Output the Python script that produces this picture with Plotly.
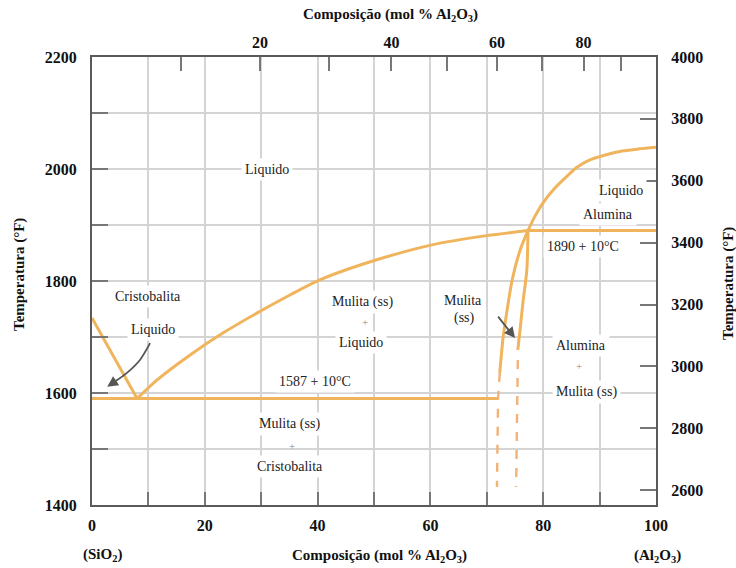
import plotly.graph_objects as go

# ---------------- data (wt % Al2O3, temperature °C) ----------------
liq_cristo_x = [0.0, 8.0]
liq_cristo_t = [1734, 1590]

liq_mullite_x = [8.0, 11.5, 17.4, 23.2, 29.3, 35.1, 40.4, 50.2, 60.5, 70.0, 77.3]
liq_mullite_t = [1590, 1623, 1668, 1707, 1743, 1775, 1802, 1837, 1865, 1881, 1890]

liq_alumina_x = [77.3, 78.5, 80.0, 82.0, 84.0, 86.0, 88.0, 91.0, 94.0, 97.0, 100.0]
liq_alumina_t = [1890, 1915, 1940, 1965, 1985, 2003, 2015, 2025, 2032, 2036, 2039]

eutectic_x = [0.0, 72.0]
eutectic_t = [1590, 1590]

peritectic_x = [77.3, 100.0]
peritectic_t = [1890, 1890]

mull_left_x = [77.3, 75.9, 74.5, 73.6, 72.9, 72.3]
mull_left_t = [1890, 1855, 1802, 1748, 1700, 1636]
mull_left_dash_x = [72.3, 72.0, 71.8]
mull_left_dash_t = [1636, 1590, 1432]

mull_right_x = [77.3, 77.1, 76.4, 75.9, 75.5]
mull_right_t = [1890, 1820, 1761, 1713, 1677]
mull_right_dash_x = [75.5, 75.2]
mull_right_dash_t = [1659, 1432]

# curved pointer for the "Liquido" label near SiO2 (x wt%, T °C)
pointer_x = [10.3, 8.5, 6.2, 4.0]
pointer_t = [1689, 1659, 1636, 1620]

# axis ticks
x_ticks = [0, 20, 40, 60, 80, 100]
x_minor = [10, 30, 50, 70, 90]
y_ticks = [1400, 1600, 1800, 2000, 2200]
y_minor = [1500, 1700, 1900, 2100]
yF_ticks = [2600, 2800, 3000, 3200, 3400, 3600, 3800, 4000]
mol_ticks = [20, 40, 60, 80]
mol_minor = [10, 30, 50, 70, 90]

# region labels: (text, x wt%, T °C)
region_labels = [
    ("Liquido", 31.0, 2000),
    ("Cristobalita", 9.9, 1773),
    ("Liquido", 10.8, 1714),
    ("Mulita (ss)", 47.9, 1762),
    ("Liquido", 47.7, 1691),
    ("1587 + 10°C", 39.5, 1620),
    ("Mulita (ss)", 35.1, 1545),
    ("Cristobalita", 35.1, 1468),
    ("Mulita", 65.8, 1766),
    ("(ss)", 66.1, 1734),
    ("Alumina", 86.7, 1684),
    ("Mulita (ss)", 87.6, 1602),
    ("Liquido", 93.8, 1962),
    ("Alumina", 91.5, 1919),
    ("1890 + 10°C", 87.1, 1862),
]
plus_labels = [(48.4, 1727), (35.5, 1505), (86.4, 1648)]

# straight arrows: (tail x, tail T, head x, head T)
arrows = [(4.0, 1620, 2.7, 1611), (71.8, 1739, 75.0, 1698)]

ORANGE = "rgb(240,180,92)"
ORANGE_D = "rgb(242,178,120)"
ARROW = "#555"
FONT = "Liberation Serif"

def mol_to_wt(m):
    return 100 * m * 101.96 / (m * 101.96 + (100 - m) * 60.08)

fig = go.Figure()

def add_line(xs, ts, dash="solid", color=ORANGE, width=3, shape="spline"):
    fig.add_trace(go.Scatter(x=xs, y=ts, mode="lines",
                             line=dict(color=color, width=width, dash=dash, shape=shape,
                                       smoothing=0.8),
                             hoverinfo="skip", showlegend=False))

add_line(liq_cristo_x, liq_cristo_t, shape="linear")
add_line(liq_mullite_x, liq_mullite_t)
add_line(liq_alumina_x, liq_alumina_t)
add_line(eutectic_x, eutectic_t, shape="linear")
add_line(peritectic_x, peritectic_t, shape="linear")
add_line(mull_left_x, mull_left_t)
add_line(mull_right_x, mull_right_t)
add_line(mull_left_dash_x, mull_left_dash_t, dash="dash", color=ORANGE_D, width=2.4, shape="linear")
add_line(mull_right_dash_x, mull_right_dash_t, dash="dash", color=ORANGE_D, width=2.4, shape="linear")
add_line(pointer_x, pointer_t, color=ARROW, width=1.8)

# invisible trace for secondary axes
fig.add_trace(go.Scatter(x=[0], y=[3000], xaxis="x2", yaxis="y2", mode="markers",
                         marker=dict(opacity=0), hoverinfo="skip", showlegend=False))

for txt, x, t in region_labels:
    fig.add_annotation(x=x, y=t, text=txt, showarrow=False, bgcolor="white",
                       font=dict(family=FONT, size=14, color="#222"), borderpad=3)
for x, t in plus_labels:
    fig.add_annotation(x=x, y=t, text="+", showarrow=False,
                       font=dict(family=FONT, size=11, color="#888"))
for tx, tt, hx, ht in arrows:
    fig.add_annotation(x=hx, y=ht, ax=tx, ay=tt, axref="x", ayref="y", text="",
                       showarrow=True, arrowhead=2, arrowsize=1.2, arrowwidth=1.8,
                       arrowcolor=ARROW)

def paper_x(px):
    return (px - 92) / 564

def paper_y(py):
    return (505 - py) / 448

title_font = dict(family=FONT, size=15, color="#111")
title_txt = "<b>Composição (mol % Al<sub>2</sub>O<sub>3</sub>)</b>"
outer_texts = [
    (title_txt, 390, 15, 0),
    (title_txt, 379, 556, 0),
    ("<b>(SiO<sub>2</sub>)</b>", 102, 555, 0),
    ("<b>(Al<sub>2</sub>O<sub>3</sub>)</b>", 657, 556, 0),
    ("<b>Temperatura (°F)</b>", 19, 275, -90),
    ("<b>Temperatura (°F)</b>", 728, 284, -90),
]
for txt, px, py, ang in outer_texts:
    fig.add_annotation(xref="paper", yref="paper", x=paper_x(px), y=paper_y(py),
                       xanchor="center", yanchor="middle", text=txt, textangle=ang,
                       showarrow=False, font=title_font)

tick_font = dict(family=FONT, size=16, color="#111", weight="bold")
LINE = "#5a5a5a"
GRID = "#d4d4d4"
TICKC = "#777"

fig.update_layout(
    width=736, height=568,
    margin=dict(l=92, r=80, t=57, b=63),
    paper_bgcolor="white", plot_bgcolor="white",
    showlegend=False,
    xaxis=dict(range=[0, 100], tickvals=x_ticks,
               ticks="inside", ticklen=13, tickwidth=2, tickcolor=TICKC,
               showgrid=True, gridcolor=GRID, gridwidth=1.5,
               minor=dict(tickvals=x_minor, ticks="inside", ticklen=13, tickwidth=2,
                          tickcolor=TICKC, showgrid=True, gridcolor=GRID, gridwidth=1.5),
               showline=True, linecolor=LINE, linewidth=2,
               zeroline=False, tickfont=tick_font, ticklabelstandoff=5),
    xaxis2=dict(range=[0, 100], overlaying="x", side="top",
                tickvals=[mol_to_wt(m) for m in mol_ticks], ticktext=[str(m) for m in mol_ticks],
                ticks="inside", ticklen=14, tickwidth=2, tickcolor=TICKC,
                minor=dict(tickvals=[mol_to_wt(m) for m in mol_minor], ticks="inside",
                           ticklen=14, tickwidth=2, tickcolor=TICKC, showgrid=False),
                showgrid=False, showline=True, linecolor=LINE, linewidth=2,
                zeroline=False, tickfont=tick_font, ticklabelstandoff=1),
    yaxis=dict(range=[1400, 2200], tickvals=y_ticks,
               ticks="inside", ticklen=16, tickwidth=2, tickcolor=TICKC,
               showgrid=True, gridcolor=GRID, gridwidth=1.5,
               minor=dict(tickvals=y_minor, ticks="inside", ticklen=16, tickwidth=2,
                          tickcolor=TICKC, showgrid=True, gridcolor=GRID, gridwidth=1.5),
               showline=True, linecolor=LINE, linewidth=2,
               zeroline=False, tickfont=tick_font, ticklabelstandoff=10),
    yaxis2=dict(range=[2552, 4000], overlaying="y", side="right",
                tickvals=yF_ticks,
                ticks="inside", ticklen=16, tickwidth=2, tickcolor=TICKC,
                showgrid=False, showline=True, linecolor=LINE, linewidth=2,
                zeroline=False, tickfont=tick_font, ticklabelstandoff=10),
)

fig.write_html("out.html", config={"displayModeBar": False},
               post_script="document.body.style.margin='0';document.body.style.overflow='hidden';")
